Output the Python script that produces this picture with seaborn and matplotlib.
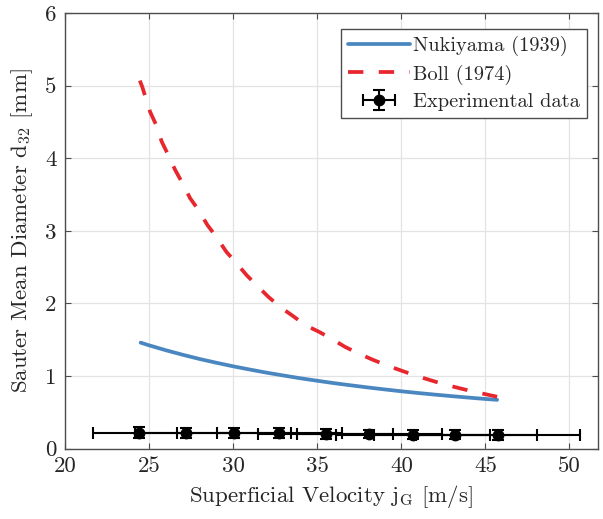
import numpy as np
import pandas as pd
import matplotlib
matplotlib.use("Agg")
import matplotlib.pyplot as plt
from matplotlib.container import ErrorbarContainer
from matplotlib.legend_handler import HandlerErrorbar
import seaborn as sns

# Correlation curves: superficial gas velocity [m/s] vs Sauter mean diameter [mm]
nuk_j = [24.5, 25.0, 26.0, 27.0, 28.0, 29.0, 30.0, 31.0, 32.0, 33.0, 34.0, 35.0,
         36.0, 37.0, 38.0, 39.0, 40.0, 41.0, 42.0, 43.0, 44.0, 45.0, 45.7]
nuk_d = [1.46, 1.423, 1.355, 1.293, 1.235, 1.183, 1.134, 1.089, 1.046, 1.007, 0.969,
         0.935, 0.902, 0.872, 0.843, 0.816, 0.790, 0.766, 0.744, 0.723, 0.703, 0.684,
         0.672]

boll_j = [24.45, 24.6, 25.06, 25.42, 25.75, 26.15, 26.55, 27.0, 27.44, 27.93, 28.47,
          28.99, 29.6, 30.18, 30.8, 31.4, 32.1, 32.8, 33.6, 34.3, 35.1, 35.8, 36.67,
          37.46, 38.3, 39.15, 40.0, 40.8, 41.7, 42.56, 43.5, 44.3, 45.2, 45.7]
boll_d = [5.07, 4.98, 4.64, 4.46, 4.23, 4.04, 3.84, 3.65, 3.45, 3.29, 3.08,
          2.92, 2.71, 2.56, 2.39, 2.25, 2.09, 1.95, 1.82, 1.70, 1.61, 1.52, 1.40,
          1.31, 1.225, 1.145, 1.075, 1.01, 0.945, 0.885, 0.83, 0.785, 0.74, 0.715]

# Measured droplet sizes with uncertainties
exp_j = [24.4, 27.2, 30.05, 32.75, 35.5, 38.1, 40.7, 43.2, 45.75]
exp_d = [0.22, 0.22, 0.22, 0.21, 0.20, 0.20, 0.19, 0.19, 0.19]
exp_jerr = [2.75, 3.05, 3.4, 3.7, 4.0, 4.3, 4.6, 4.85, 4.9]
exp_derr = [0.08, 0.07, 0.07, 0.07, 0.07, 0.06, 0.06, 0.06, 0.07]

x_ticks = [20, 25, 30, 35, 40, 45, 50]
y_ticks = [0, 1, 2, 3, 4, 5, 6]

sns.set_theme(style="whitegrid")
plt.rcParams["font.family"] = ["cmr10", "DejaVu Serif"]
plt.rcParams["mathtext.fontset"] = "cm"
plt.rcParams["axes.formatter.use_mathtext"] = True

fig = plt.figure(figsize=(6.03, 5.19), dpi=100)
ax = fig.add_axes([0.1078, 0.1356, 0.8839, 0.8392])

nuk = pd.DataFrame({"j": nuk_j, "d": nuk_d})
boll = pd.DataFrame({"j": boll_j, "d": boll_d})

sns.lineplot(data=nuk, x="j", y="d", ax=ax, color="#4a87c0", lw=2.7,
             label="Nukiyama (1939)", sort=False)
sns.lineplot(data=boll, x="j", y="d", ax=ax, color="#e8262e", lw=2.7,
             dashes=False, label="Boll (1974)", sort=False)
ax.lines[-1].set_dashes((4.1, 4.1))

ax.errorbar(exp_j, exp_d, xerr=exp_jerr, yerr=exp_derr, fmt="o", color="black",
            ecolor="black", elinewidth=1.5, capsize=4.5, capthick=1.5,
            markersize=7.5, label="Experimental data", zorder=5)

ax.set_xlim(20, 51.7)
ax.set_ylim(0, 6)
ax.set_xticks(x_ticks)
ax.set_yticks(y_ticks)
ax.set_xticklabels([str(t) for t in x_ticks])
ax.set_yticklabels([str(t) for t in y_ticks])

ax.grid(True, color="#e3e3e3", lw=0.9)
ax.set_facecolor("white")
for s in ax.spines.values():
    s.set_visible(True)
    s.set_color("#4d4d4d")
    s.set_linewidth(1.0)

ax.tick_params(axis="both", which="major", direction="in", length=4, width=0.8,
               color="#4d4d4d", labelsize=16.5, labelcolor="#262626",
               top=True, right=True, bottom=True, left=True, pad=6)

ax.set_xlabel(r"Superficial Velocity j$_\mathrm{G}$ [m/s]", fontsize=16.5,
              color="#262626", labelpad=5)
ax.set_ylabel(r"Sauter Mean Diameter d$_{32}$ [mm]", fontsize=16.5,
              color="#262626", labelpad=7)

leg = ax.legend(loc="upper right", bbox_to_anchor=(0.979, 0.9635),
                borderaxespad=0, fontsize=14.7, frameon=True, fancybox=False,
                handlelength=3.0, handletextpad=0.15, borderpad=0.35,
                labelspacing=0.4,
                handler_map={ErrorbarContainer: HandlerErrorbar(xerr_size=0.8,
                                                                yerr_size=0.5)})
leg.get_frame().set_edgecolor("#4d4d4d")
leg.get_frame().set_linewidth(1.0)
leg.get_frame().set_alpha(1.0)
for t in leg.get_texts():
    t.set_color("#262626")

fig.savefig("out.png", dpi=100)
